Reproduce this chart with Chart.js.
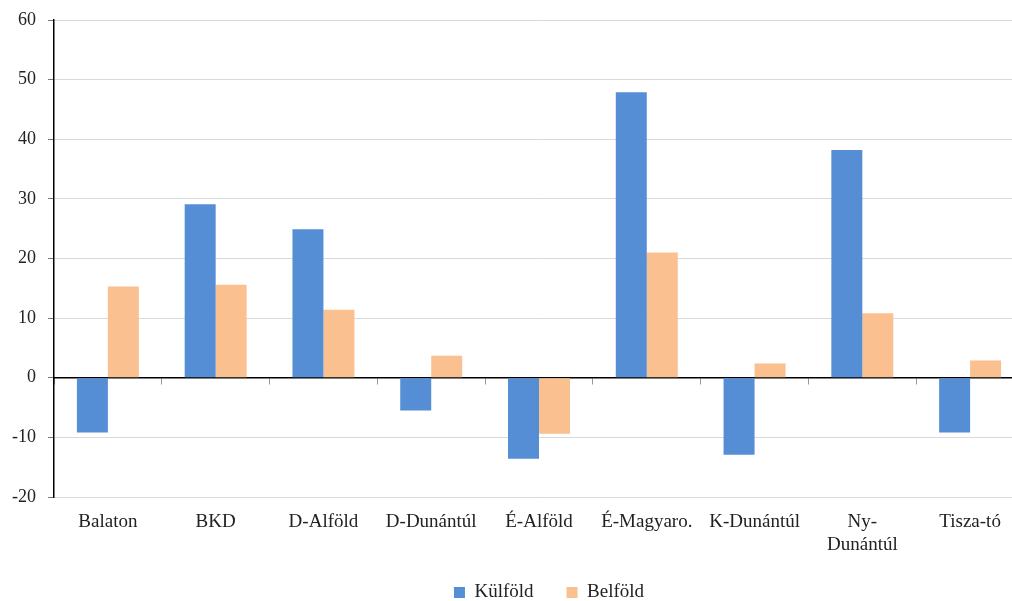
<!DOCTYPE html>
<html>
<head>
<meta charset="utf-8">
<script src="https://cdn.jsdelivr.net/npm/chart.js@4.4.0/dist/chart.umd.min.js"></script>
<style>
html,body{margin:0;padding:0;background:#fff;overflow:hidden;}
#wrap{width:1024px;height:612px;position:relative;}
</style>
</head>
<body>
<div id="wrap"><canvas id="c"></canvas></div>
<script>
const categories = ["Balaton","BKD","D-Alföld","D-Dunántúl","É-Alföld","É-Magyaro.","K-Dunántúl",["Ny-","Dunántúl"],"Tisza-tó"];
const kulfold = [-9.2, 29.1, 24.9, -5.5, -13.6, 47.9, -12.9, 38.2, -9.2];
const belfold = [15.3, 15.6, 11.4, 3.7, -9.4, 21.0, 2.4, 10.8, 2.9];
const yMin = -20, yMax = 60, yStep = 10;

const FONT = "'Liberation Serif', 'Times New Roman', serif";
const legendShift = {
  id: 'legendShift',
  afterLayout(chart) {
    const lg = chart.legend;
    if (lg) { lg.left += 10; lg.right += 10; }
  }
};
new Chart(document.getElementById('c'), {
  type: 'bar',
  data: {
    labels: categories,
    datasets: [
      {label: 'Külföld', data: kulfold, backgroundColor: '#558ED5', categoryPercentage: 0.575, barPercentage: 1.0},
      {label: 'Belföld', data: belfold, backgroundColor: '#FAC090', categoryPercentage: 0.575, barPercentage: 1.0}
    ]
  },
  plugins: [legendShift],
  options: {
    responsive: true,
    maintainAspectRatio: false,
    animation: false,
    layout: {padding: {top: 20, right: 0, left: 0, bottom: 0}},
    plugins: {
      legend: {
        position: 'bottom',
        fullSize: false,
        labels: {font: {family: FONT, size: 19}, color: '#222', boxWidth: 11, boxHeight: 11, padding: 33}
      },
      tooltip: {enabled: false}
    },
    scales: {
      x: {
        offset: true,
        grid: {display: false},
        border: {display: false},
        ticks: {font: {family: FONT, size: 19}, color: '#222', padding: 6, maxRotation: 0, autoSkip: false},
        afterFit: (s) => { s.height = 53; }
      },
      x2: {
        type: 'category',
        labels: categories,
        position: {y: 0},
        offset: true,
        ticks: {display: false},
        grid: {offset: true, drawOnChartArea: false, drawTicks: true, tickLength: 6, color: '#999', lineWidth: 1},
        border: {display: true, color: '#000', width: 1.5}
      },
      y: {
        min: yMin, max: yMax,
        ticks: {stepSize: yStep, font: {family: FONT, size: 18}, color: '#222', padding: 12},
        grid: {color: (ctx) => ctx.tick && ctx.tick.value === 0 ? '#000' : '#d9d9d9', tickColor: '#777', tickLength: 6, lineWidth: 1},
        border: {display: true, color: '#000', width: 1.5},
        afterFit: (s) => { s.width = 54; s.paddingTop = 0; s.paddingBottom = 0; }
      }
    }
  }
});
</script>
</body>
</html>
